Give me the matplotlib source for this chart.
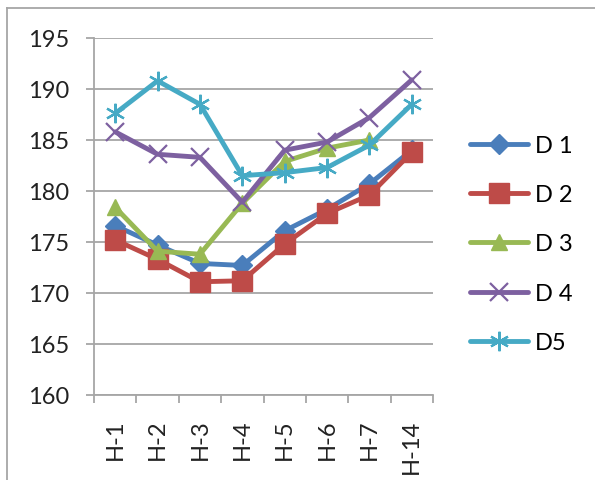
import numpy as np
import matplotlib
matplotlib.use("Agg")
import matplotlib.pyplot as plt
from matplotlib.lines import Line2D

# data
categories = ["H-1", "H-2", "H-3", "H-4", "H-5", "H-6", "H-7", "H-14"]
d1 = [176.6, 174.7, 172.9, 172.7, 176.1, 178.2, 180.7, 184.0]
d2 = [175.2, 173.3, 171.1, 171.2, 174.8, 177.8, 179.6, 183.8]
d3 = [178.4, 174.1, 173.8, 178.8, 182.9, 184.2, 185.0, np.nan]
d4 = [185.8, 183.6, 183.3, 178.9, 184.0, 184.8, 187.2, 190.9]
d5 = [187.6, 190.8, 188.5, 181.5, 181.8, 182.3, 184.5, 188.5]
series_names = ["D 1", "D 2", "D 3", "D 4", "D5"]
yticks = [160, 165, 170, 175, 180, 185, 190, 195]

colors = ["#4A7EBB", "#BE4B48", "#98B954", "#7D60A0", "#46AAC5"]
markers = ["D", "s", "^", "x", (6, 2, 0)]
msizes = [10, 14, 12, 13, 14]

plt.rcParams["font.family"] = ["Lato", "DejaVu Sans"]
FS = 17

fig = plt.figure(figsize=(5.95, 4.81), dpi=100)
ax = fig.add_axes([94 / 595, 85 / 481, 339 / 595, 357 / 481])

x = np.arange(len(categories))
for vals, name, c, m, ms in zip([d1, d2, d3, d4, d5], series_names, colors, markers, msizes):
    mew = 1.6 if m in ("x",) or isinstance(m, tuple) else 1
    ax.plot(x, vals, color=c, lw=3.5, marker=m, markersize=ms, markeredgewidth=mew,
            markeredgecolor=c, markerfacecolor=c, label=name, solid_capstyle="round")

ax.set_xlim(-0.5, len(categories) - 0.5)
ax.set_ylim(160, 195)
ax.set_yticks(yticks)
ax.set_yticklabels([str(v) for v in yticks], fontsize=FS, color="#222222")
ax.set_xticks(x)
ax.set_xticklabels(categories, rotation=90, fontsize=FS, color="#222222")
ax.tick_params(axis="x", length=0, pad=17)
ax.tick_params(axis="y", length=6, color="#A6A6A6", width=1.3, pad=12)
ax.set_xticks(np.arange(len(categories) + 1) - 0.5, minor=True)
ax.tick_params(axis="x", which="minor", length=6, color="#A6A6A6", width=1.3)

ax.grid(axis="y", color="#A6A6A6", lw=1.3)
ax.set_axisbelow(True)
for s in ["top", "right"]:
    ax.spines[s].set_visible(False)
for s in ["left", "bottom"]:
    ax.spines[s].set_color("#A6A6A6")
    ax.spines[s].set_linewidth(1.3)

handles, labels = ax.get_legend_handles_labels()
fig.legend(handles, labels, loc="center left", bbox_to_anchor=(470 / 595, 1 - 245 / 481),
           frameon=False, fontsize=FS, handlelength=2.45, handletextpad=0.3,
           labelspacing=1.2, borderaxespad=0.0, borderpad=0.0)

# outer chart frame (top and left edges visible)
fig.add_artist(Line2D([7 / 595, 7 / 595], [0, 1 - 9 / 481], color="#A6A6A6", lw=1.3))
fig.add_artist(Line2D([7 / 595, 1], [1 - 9 / 481, 1 - 9 / 481], color="#A6A6A6", lw=1.3))

fig.savefig("out.png", dpi=100)
